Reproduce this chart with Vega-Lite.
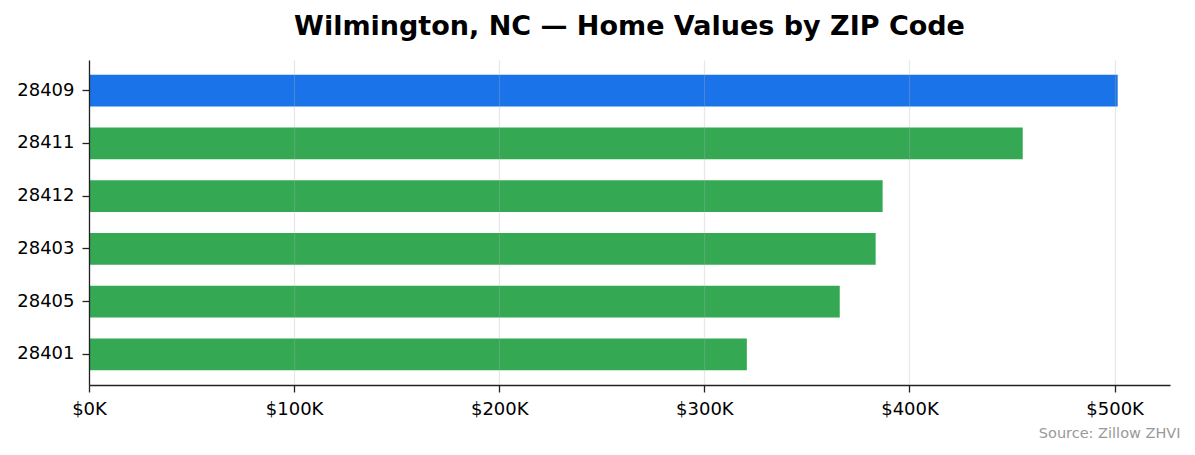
{
  "$schema": "https://vega.github.io/schema/vega-lite/v6.json",
  "description": "Wilmington NC home values by ZIP code (Zillow ZHVI)",
  "autosize": "none",
  "width": 1081,
  "height": 325,
  "padding": {"left": 89, "top": 60, "right": 25, "bottom": 70},
  "background": "white",
  "title": {
    "text": "Wilmington, NC — Home Values by ZIP Code",
    "anchor": "middle",
    "offset": 19,
    "font": "DejaVu Sans",
    "fontSize": 27,
    "fontWeight": "bold",
    "color": "#000000"
  },
  "data": {
    "values": [
      {"zip": "28409", "value": 501500},
      {"zip": "28411", "value": 455200},
      {"zip": "28412", "value": 386900},
      {"zip": "28403", "value": 383500},
      {"zip": "28405", "value": 366000},
      {"zip": "28401", "value": 320700}
    ]
  },
  "mark": {"type": "bar"},
  "encoding": {
    "y": {
      "field": "zip",
      "type": "nominal",
      "sort": {"field": "value", "order": "descending"},
      "scale": {"paddingInner": 0.4, "paddingOuter": 0.28},
      "axis": {
        "title": null,
        "grid": false,
        "tickSize": 7,
        "labelPadding": 8,
        "zindex": 1
      }
    },
    "x": {
      "field": "value",
      "type": "quantitative",
      "scale": {"domain": [0, 527000], "nice": false, "zero": true},
      "axis": {
        "values": [0, 100000, 200000, 300000, 400000, 500000],
        "labelExpr": "'$' + format(datum.value / 1000, '.0f') + 'K'",
        "labelFlush": false,
        "grid": true,
        "gridColor": "#b0b0b0",
        "gridOpacity": 0.3,
        "gridWidth": 1.2,
        "tickSize": 7,
        "labelPadding": 8,
        "zindex": 1,
        "title": "Source: Zillow ZHVI",
        "titleAnchor": "end",
        "titleAlign": "right",
        "titleBaseline": "alphabetic",
        "titleX": 1091,
        "titleY": 52,
        "titleFontSize": 14.5,
        "titleFontWeight": "normal",
        "titleColor": "#999999"
      }
    },
    "color": {
      "condition": {"test": "datum.zip === '28409'", "value": "#1a73e8"},
      "value": "#34a853"
    }
  },
  "config": {
    "font": "DejaVu Sans",
    "view": {"stroke": null},
    "axis": {
      "domainColor": "#222222",
      "domainWidth": 1.3,
      "tickColor": "#222222",
      "tickWidth": 1.3,
      "labelFont": "DejaVu Sans",
      "labelFontSize": 18,
      "labelColor": "#000000",
      "titleFont": "DejaVu Sans"
    }
  }
}
